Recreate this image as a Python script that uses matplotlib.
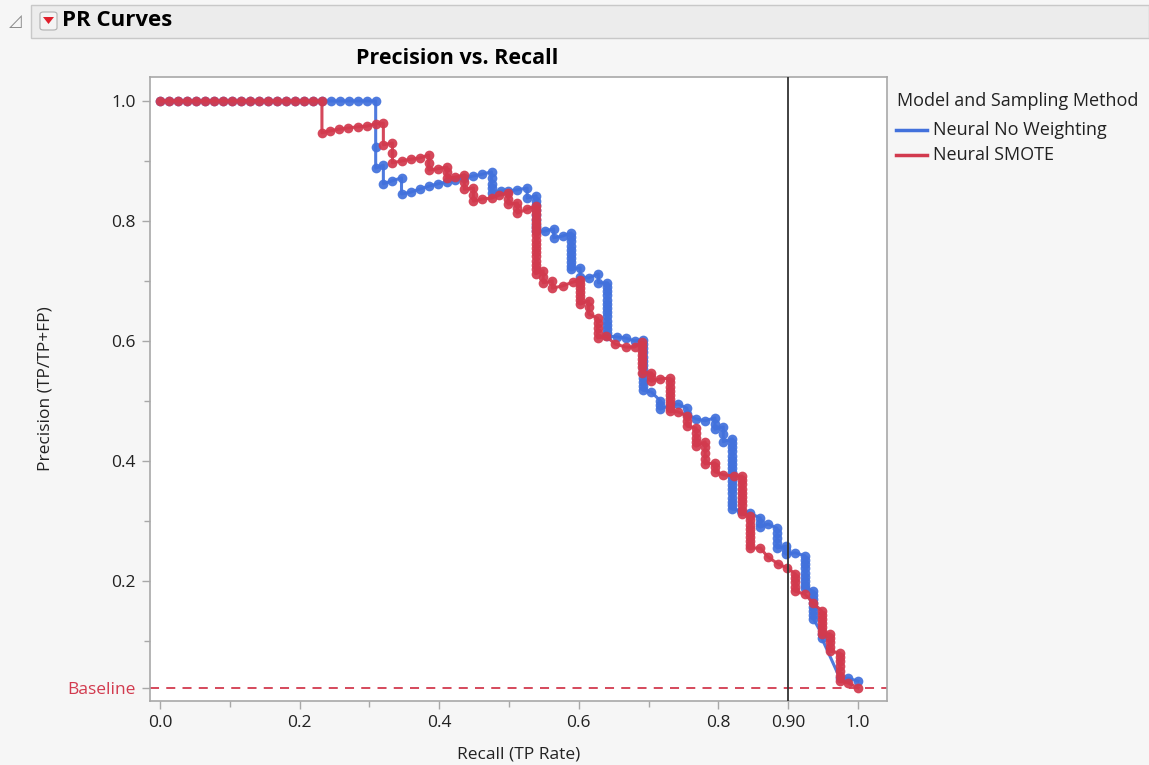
import matplotlib
matplotlib.use("Agg")
import matplotlib.pyplot as plt
from matplotlib.patches import Rectangle, FancyBboxPatch, Polygon
from matplotlib.ticker import FixedLocator

plt.rcParams['font.family'] = ['Open Sans', 'DejaVu Sans']

W, H = 1149, 765

# Neural No Weighting: (recall, precision) at each threshold
nw_points = [
    (0.000, 1.000), (0.013, 1.000), (0.026, 1.000), (0.039, 1.000), (0.052, 1.000),
    (0.064, 1.000), (0.077, 1.000), (0.090, 1.000), (0.103, 1.000), (0.116, 1.000),
    (0.129, 1.000), (0.142, 1.000), (0.155, 1.000), (0.167, 1.000), (0.180, 1.000),
    (0.193, 1.000), (0.206, 1.000), (0.219, 1.000), (0.232, 1.000), (0.245, 1.000),
    (0.258, 1.000), (0.271, 1.000), (0.283, 1.000), (0.296, 1.000), (0.309, 1.000),
    (0.309, 0.923), (0.309, 0.888), (0.320, 0.893), (0.320, 0.862), (0.333, 0.867),
    (0.346, 0.872), (0.346, 0.845), (0.359, 0.848), (0.372, 0.853), (0.385, 0.858),
    (0.398, 0.862), (0.411, 0.865), (0.423, 0.868), (0.436, 0.872), (0.449, 0.875),
    (0.462, 0.878), (0.475, 0.882), (0.475, 0.872), (0.475, 0.862), (0.475, 0.855),
    (0.475, 0.847), (0.488, 0.850), (0.499, 0.850), (0.512, 0.852), (0.526, 0.855),
    (0.526, 0.838), (0.539, 0.842), (0.539, 0.834), (0.539, 0.826), (0.539, 0.818),
    (0.539, 0.810), (0.539, 0.802), (0.539, 0.794), (0.539, 0.788), (0.539, 0.783),
    (0.551, 0.783), (0.564, 0.787), (0.564, 0.772), (0.577, 0.775), (0.589, 0.780),
    (0.589, 0.773), (0.589, 0.766), (0.589, 0.759), (0.589, 0.752), (0.589, 0.745),
    (0.589, 0.738), (0.589, 0.731), (0.589, 0.725), (0.589, 0.720), (0.602, 0.722),
    (0.602, 0.707), (0.614, 0.705), (0.628, 0.712), (0.628, 0.697), (0.641, 0.697),
    (0.641, 0.690), (0.641, 0.683), (0.641, 0.676), (0.641, 0.669), (0.641, 0.662),
    (0.641, 0.655), (0.641, 0.648), (0.641, 0.641), (0.641, 0.634), (0.641, 0.627),
    (0.641, 0.620), (0.641, 0.614), (0.641, 0.608), (0.654, 0.607), (0.667, 0.605),
    (0.680, 0.600), (0.692, 0.602), (0.692, 0.595), (0.692, 0.588), (0.692, 0.581),
    (0.692, 0.574), (0.692, 0.567), (0.692, 0.560), (0.692, 0.553), (0.692, 0.546),
    (0.692, 0.539), (0.692, 0.532), (0.692, 0.525), (0.692, 0.518), (0.704, 0.515),
    (0.717, 0.500), (0.717, 0.493), (0.717, 0.487), (0.730, 0.492), (0.742, 0.495),
    (0.755, 0.488), (0.755, 0.478), (0.768, 0.470), (0.781, 0.467), (0.795, 0.472),
    (0.795, 0.462), (0.795, 0.453), (0.807, 0.457), (0.807, 0.445), (0.807, 0.432),
    (0.820, 0.437), (0.820, 0.430), (0.820, 0.423), (0.820, 0.416), (0.820, 0.409),
    (0.820, 0.402), (0.820, 0.395), (0.820, 0.388), (0.820, 0.381), (0.820, 0.374),
    (0.820, 0.367), (0.820, 0.360), (0.820, 0.353), (0.820, 0.346), (0.820, 0.339),
    (0.820, 0.332), (0.820, 0.326), (0.820, 0.320), (0.833, 0.317), (0.845, 0.313),
    (0.860, 0.305), (0.860, 0.297), (0.860, 0.290), (0.871, 0.295), (0.884, 0.288),
    (0.884, 0.280), (0.884, 0.272), (0.884, 0.263), (0.884, 0.255), (0.897, 0.258),
    (0.897, 0.251), (0.897, 0.245), (0.910, 0.247), (0.924, 0.242), (0.924, 0.235),
    (0.924, 0.228), (0.924, 0.221), (0.924, 0.214), (0.924, 0.207), (0.924, 0.200),
    (0.924, 0.194), (0.924, 0.188), (0.936, 0.183), (0.936, 0.176), (0.936, 0.170),
    (0.936, 0.163), (0.936, 0.157), (0.936, 0.150), (0.936, 0.143), (0.936, 0.137),
    (0.948, 0.112), (0.948, 0.105), (0.974, 0.038), (0.986, 0.038), (1.000, 0.033),
]

# Neural SMOTE
sm_points = [
    (0.000, 1.000), (0.013, 1.000), (0.026, 1.000), (0.039, 1.000), (0.052, 1.000),
    (0.064, 1.000), (0.077, 1.000), (0.090, 1.000), (0.103, 1.000), (0.116, 1.000),
    (0.129, 1.000), (0.142, 1.000), (0.155, 1.000), (0.167, 1.000), (0.180, 1.000),
    (0.193, 1.000), (0.206, 1.000), (0.219, 1.000), (0.232, 1.000), (0.232, 0.947),
    (0.243, 0.950), (0.256, 0.953), (0.269, 0.955), (0.283, 0.957), (0.296, 0.958),
    (0.309, 0.962), (0.320, 0.963), (0.320, 0.927), (0.333, 0.930),
    (0.333, 0.913), (0.333, 0.897), (0.346, 0.900), (0.359, 0.903), (0.372, 0.905),
    (0.385, 0.910), (0.385, 0.897), (0.385, 0.885), (0.398, 0.887), (0.411, 0.890),
    (0.411, 0.881), (0.411, 0.872), (0.423, 0.873), (0.436, 0.877), (0.436, 0.865),
    (0.436, 0.853), (0.449, 0.855), (0.449, 0.844), (0.449, 0.833), (0.462, 0.837),
    (0.475, 0.838), (0.486, 0.843), (0.499, 0.847), (0.499, 0.837), (0.499, 0.828),
    (0.512, 0.830), (0.512, 0.822), (0.512, 0.813), (0.526, 0.820), (0.538, 0.825),
    (0.538, 0.818), (0.538, 0.811), (0.538, 0.804), (0.538, 0.797), (0.538, 0.790),
    (0.538, 0.783), (0.538, 0.776), (0.538, 0.769), (0.538, 0.762), (0.538, 0.755),
    (0.538, 0.748), (0.538, 0.741), (0.538, 0.734), (0.538, 0.727), (0.538, 0.720),
    (0.538, 0.712), (0.549, 0.717), (0.549, 0.707), (0.549, 0.697), (0.562, 0.700),
    (0.562, 0.688), (0.577, 0.692), (0.591, 0.698), (0.602, 0.702), (0.602, 0.695),
    (0.602, 0.688), (0.602, 0.681), (0.602, 0.675), (0.602, 0.668), (0.602, 0.662),
    (0.614, 0.667), (0.614, 0.656), (0.614, 0.645), (0.627, 0.638), (0.627, 0.630),
    (0.627, 0.622), (0.627, 0.613), (0.627, 0.605), (0.639, 0.608), (0.652, 0.595),
    (0.667, 0.590), (0.680, 0.590), (0.691, 0.598), (0.691, 0.591), (0.691, 0.584),
    (0.691, 0.577), (0.691, 0.570), (0.691, 0.563), (0.691, 0.556), (0.691, 0.547),
    (0.704, 0.547), (0.704, 0.540), (0.704, 0.533), (0.717, 0.537), (0.730, 0.538),
    (0.730, 0.531), (0.730, 0.524), (0.730, 0.517), (0.730, 0.510), (0.730, 0.503),
    (0.730, 0.496), (0.730, 0.489), (0.730, 0.483), (0.742, 0.482), (0.755, 0.475),
    (0.755, 0.467), (0.755, 0.458), (0.768, 0.455), (0.768, 0.447), (0.768, 0.438),
    (0.768, 0.431), (0.768, 0.425), (0.781, 0.432), (0.781, 0.423), (0.781, 0.413),
    (0.781, 0.404), (0.781, 0.395), (0.795, 0.397), (0.795, 0.390), (0.795, 0.382),
    (0.807, 0.377), (0.822, 0.375), (0.834, 0.375), (0.834, 0.368), (0.834, 0.361),
    (0.834, 0.354), (0.834, 0.347), (0.834, 0.340), (0.834, 0.333), (0.834, 0.326),
    (0.834, 0.319), (0.834, 0.312), (0.845, 0.308), (0.845, 0.301), (0.845, 0.294),
    (0.845, 0.287), (0.845, 0.280), (0.845, 0.273), (0.845, 0.266), (0.845, 0.260),
    (0.845, 0.255), (0.860, 0.255), (0.871, 0.240), (0.886, 0.228), (0.898, 0.222),
    (0.910, 0.212), (0.910, 0.205), (0.910, 0.198), (0.910, 0.190), (0.910, 0.183),
    (0.924, 0.178), (0.936, 0.163), (0.948, 0.150), (0.948, 0.143), (0.948, 0.137),
    (0.948, 0.130), (0.948, 0.123), (0.948, 0.117), (0.948, 0.112), (0.960, 0.112),
    (0.960, 0.105), (0.960, 0.098), (0.960, 0.090), (0.960, 0.083), (0.974, 0.080),
    (0.974, 0.073), (0.974, 0.067), (0.974, 0.059), (0.974, 0.050), (0.974, 0.042),
    (0.974, 0.033), (0.986, 0.030), (1.000, 0.022),
]

baseline = 0.022
cutoff = 0.90

x_major = [0.0, 0.2, 0.4, 0.6, 0.8, 0.9, 1.0]
x_labels = ["0.0", "0.2", "0.4", "0.6", "0.8", "0.90", "1.0"]
x_minor = [0.1, 0.3, 0.5, 0.7]
y_major = [baseline, 0.2, 0.4, 0.6, 0.8, 1.0]
y_labels = ["Baseline", "0.2", "0.4", "0.6", "0.8", "1.0"]
y_minor = [0.1, 0.3, 0.5, 0.7, 0.9]

series_names = ["Neural No Weighting", "Neural SMOTE"]
series_colors = ["#4271dc", "#d23a4e"]

BG = "#f6f6f6"
AXIS_GRAY = "#a8a8a8"
TEXT = "#222222"


def fx(px):
    return px / W


def fy(py):
    return 1 - py / H


fig = plt.figure(figsize=(W / 100, H / 100), dpi=100, facecolor=BG)

# outline header bar
fig.patches.append(Rectangle((fx(31), fy(38)), fx(1149) - fx(31), fy(5) - fy(38),
                             transform=fig.transFigure, facecolor="#ececec",
                             edgecolor="#c8c8c8", lw=1))
fig.text(fx(9), fy(21), "\u25FF", fontsize=12, color="#8a8a8a",
         va="center", ha="left", family="DejaVu Sans")
fig.patches.append(FancyBboxPatch((fx(40), fy(30)), fx(17), fy(12) - fy(30),
                                  boxstyle="round,pad=0,rounding_size=0.003",
                                  transform=fig.transFigure, facecolor="#f4f4f4",
                                  edgecolor="#b0b0b0", lw=0.8))
fig.patches.append(Polygon([(fx(43), fy(17)), (fx(54), fy(17)), (fx(48.5), fy(24))],
                           closed=True, transform=fig.transFigure,
                           facecolor="#e0202c", edgecolor="none"))
fig.text(fx(62), fy(21), "PR Curves", fontsize=16, fontweight="bold",
         va="center", ha="left", color="black")

ax = fig.add_axes([fx(150), fy(701), fx(887) - fx(150), fy(77) - fy(701)])
ax.set_facecolor("white")
ax.set_xlim(-0.0143, 1.0415)
ax.set_ylim(0.0, 1.04)

for pts, col, z in [(nw_points, series_colors[0], 3), (sm_points, series_colors[1], 4)]:
    rec, prec = zip(*pts)
    ax.plot(rec, prec, color=col, lw=2.2, marker="o", ms=7, mec="none",
            alpha=0.93, zorder=z)

ax.axhline(baseline, color="#d23a4e", lw=1.3, ls=(0, (5, 4)), zorder=2)
ax.axvline(cutoff, color="#333333", lw=1.3, zorder=5)

ax.xaxis.set_major_locator(FixedLocator(x_major))
ax.set_xticklabels(x_labels)
ax.xaxis.set_minor_locator(FixedLocator(x_minor))
ax.yaxis.set_major_locator(FixedLocator(y_major))
ax.set_yticklabels(y_labels)
ax.yaxis.set_minor_locator(FixedLocator(y_minor))

ax.tick_params(which="major", length=6, width=1, color=AXIS_GRAY,
               labelsize=12.5, labelcolor=TEXT, pad=4)
ax.tick_params(which="minor", length=4, width=1, color=AXIS_GRAY)
ax.get_yticklabels()[0].set_color("#d23a4e")
for s in ax.spines.values():
    s.set_color(AXIS_GRAY)
    s.set_linewidth(1.2)

ax.set_xlabel("Recall (TP Rate)", fontsize=12.5, color=TEXT, labelpad=11)
ax.set_ylabel("Precision (TP/TP+FP)", fontsize=12.5, color=TEXT)
# keep the y label clear of the wide "Baseline" tick label only where needed
ax.yaxis.set_label_coords(-0.131, 0.5)

fig.text(fx(457), fy(59), "Precision vs. Recall", fontsize=15.5, fontweight="bold",
         ha="center", va="center", color="black")

# legend
fig.text(fx(897), fy(101), "Model and Sampling Method", fontsize=13,
         ha="left", va="center", color=TEXT)
for i, (name, col) in enumerate(zip(series_names, series_colors)):
    yy = 130 + 25 * i
    fig.add_artist(plt.Line2D([fx(896), fx(927)], [fy(yy), fy(yy)],
                              color=col, lw=2.5, transform=fig.transFigure))
    fig.text(fx(933), fy(yy), name, fontsize=13, ha="left", va="center",
             color=TEXT)

fig.savefig("out.png", dpi=100, facecolor=BG)
